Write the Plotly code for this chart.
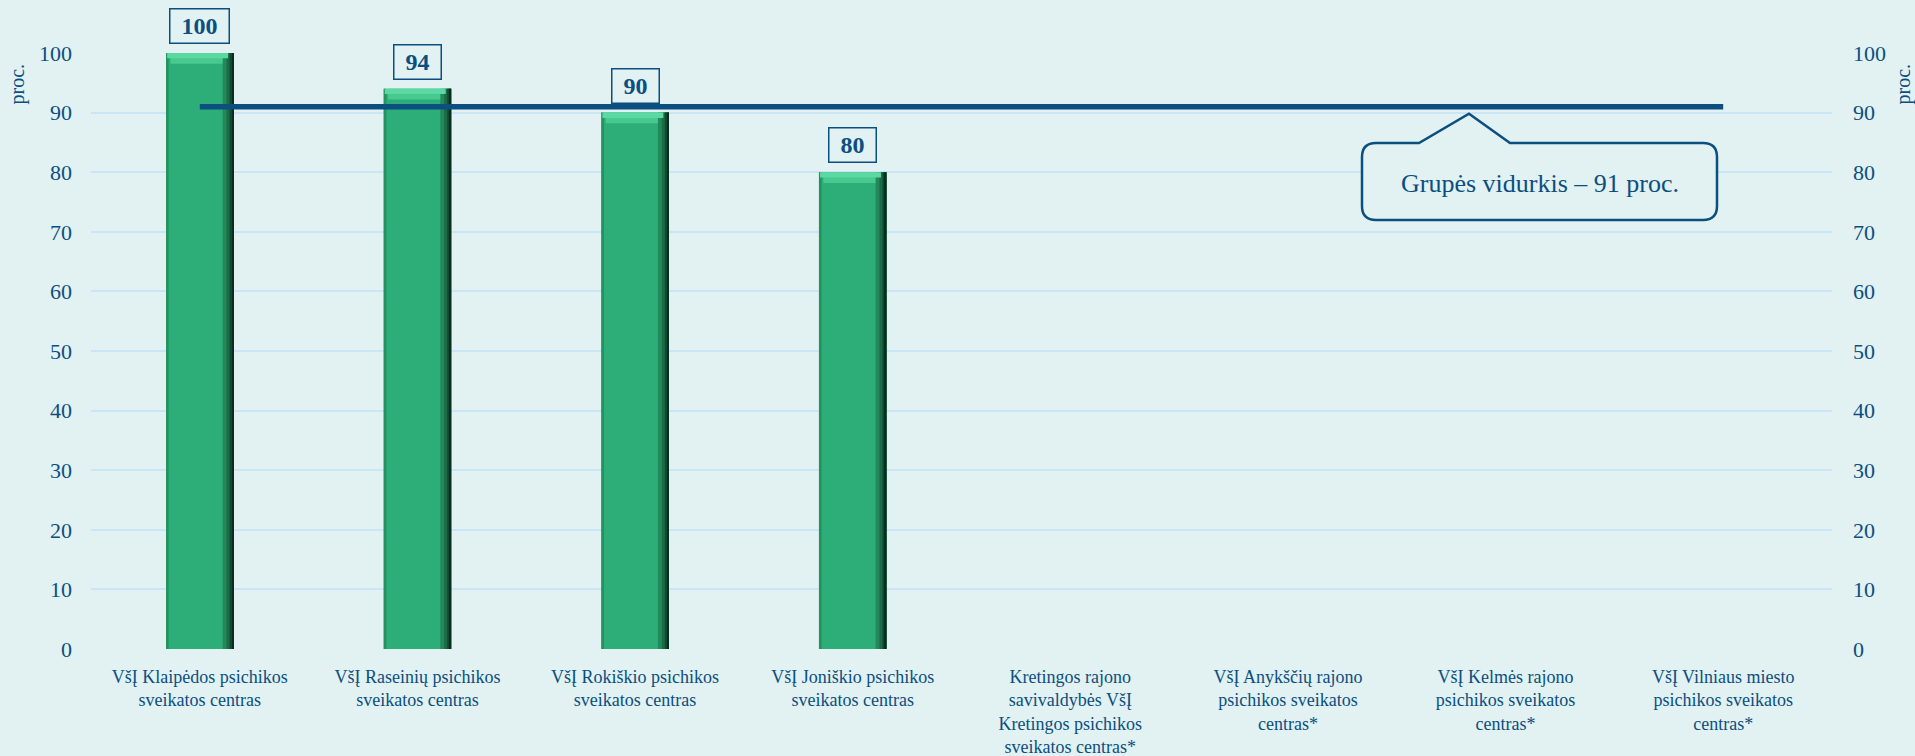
import plotly.graph_objects as go

# ---- data ----
categories = [
    "VšĮ Klaipėdos psichikos<br>sveikatos centras",
    "VšĮ Raseinių psichikos<br>sveikatos centras",
    "VšĮ Rokiškio psichikos<br>sveikatos centras",
    "VšĮ Joniškio psichikos<br>sveikatos centras",
    "Kretingos rajono<br>savivaldybės VšĮ<br>Kretingos psichikos<br>sveikatos centras*",
    "VšĮ Anykščių rajono<br>psichikos sveikatos<br>centras*",
    "VšĮ Kelmės rajono<br>psichikos sveikatos<br>centras*",
    "VšĮ Vilniaus miesto<br>psichikos sveikatos<br>centras*",
]
values = [100, 94, 90, 80, None, None, None, None]
group_avg = 91
y_ticks = [0, 10, 20, 30, 40, 50, 60, 70, 80, 90, 100]
axis_title = "proc."

# ---- style ----
W, H = 1915, 756
ML, MR, MT, MB = 91, 83, 53, 107
BG = "#e2f1f2"
DARK = "#0b4f80"
GRID = "#c9e6f7"
FONT = "Liberation Serif"
BAR_W = 0.31

x_idx = list(range(len(categories)))
xs = [i for i, v in zip(x_idx, values) if v is not None]
vs = [v for v in values if v is not None]

fig = go.Figure()

# main bar body
fig.add_trace(go.Bar(x=xs, y=vs, width=BAR_W, marker=dict(color="#2dae79", line=dict(width=0)),
                     hoverinfo="skip", showlegend=False))
# left subtle edge
fig.add_trace(go.Bar(x=xs, y=vs, width=0.012, offset=-BAR_W / 2,
                     marker=dict(color="#24925f", line=dict(width=0)), hoverinfo="skip", showlegend=False))
# right dark edge (gradient approximation)
for w, c in [(0.05, "#23895b"), (0.032, "#1a6b46"), (0.018, "#114a30"), (0.007, "#0a2e1e")]:
    fig.add_trace(go.Bar(x=xs, y=vs, width=w, offset=BAR_W / 2 - w,
                         marker=dict(color=c, line=dict(width=0)), hoverinfo="skip", showlegend=False))
# top bevel
bev = 1.8
fig.add_trace(go.Bar(x=xs, y=[bev] * len(vs), base=[v - bev for v in vs], width=BAR_W - 0.07,
                     offset=-BAR_W / 2 + 0.02,
                     marker=dict(color="#47c990", line=dict(width=0)), hoverinfo="skip", showlegend=False))
fig.add_trace(go.Bar(x=xs, y=[bev * 0.5] * len(vs), base=[v - bev * 0.5 for v in vs], width=BAR_W - 0.03,
                     offset=-BAR_W / 2 + 0.005,
                     marker=dict(color="#5cd9a3", line=dict(width=0)), hoverinfo="skip", showlegend=False))

# group average line (on secondary axis, same scale)
fig.add_trace(go.Scatter(x=[x_idx[0], x_idx[-1]], y=[group_avg, group_avg], yaxis="y2", mode="lines",
                         line=dict(color=DARK, width=5.5), hoverinfo="skip", showlegend=False))

# value labels in boxes
for x, v in zip(xs, vs):
    fig.add_annotation(x=x, y=v, text=f"<b>{v}</b>", showarrow=False, yanchor="bottom", yshift=9,
                       font=dict(family=FONT, size=24, color=DARK), bordercolor=DARK, borderwidth=1.5,
                       borderpad=2, width=54 if v >= 100 else 42, height=29, bgcolor=BG)

# callout with pointer to the average line
pw = (W - ML - MR) / len(categories)
ph = (H - MT - MB) / 100.0


def px2d(px, py):
    return (px - ML) / pw - 0.5, (H - MB - py) / ph


tip_y = H - MB - group_avg * ph + 7
left, right, top, bot, r = 1362, 1717, 143, 220, 14


def P(cmd, *xy):
    out = cmd
    for i in range(0, len(xy), 2):
        dx, dy = px2d(xy[i], xy[i + 1])
        out += f" {dx:.5f},{dy:.5f}"
    return out + " "


path = ""
path += P("M", left + r, top)
path += P("L", 1419, top)
path += P("L", 1469, tip_y)
path += P("L", 1510, top)
path += P("L", right - r, top)
path += P("Q", right, top, right, top + r)
path += P("L", right, bot - r)
path += P("Q", right, bot, right - r, bot)
path += P("L", left + r, bot)
path += P("Q", left, bot, left, bot - r)
path += P("L", left, top + r)
path += P("Q", left, top, left + r, top)
path += "Z"
fig.add_shape(type="path", path=path, xref="x", yref="y", line=dict(color=DARK, width=2.5),
              fillcolor=BG, layer="above")
cx, cy = px2d((left + right) / 2, (top + bot) / 2 + 2)
fig.add_annotation(x=cx, y=cy, text=f"Grupės vidurkis – {group_avg} proc.", showarrow=False,
                   font=dict(family=FONT, size=26, color=DARK))

# axis titles (top-aligned)
fig.add_annotation(xref="paper", yref="paper", x=(17 - ML) / (W - ML - MR), y=1.0, xanchor="center",
                   yanchor="top", yshift=-9, text=axis_title, textangle=-90, showarrow=False,
                   font=dict(family=FONT, size=20, color=DARK))
fig.add_annotation(xref="paper", yref="paper", x=(1903 - ML) / (W - ML - MR), y=1.0, xanchor="center",
                   yanchor="top", yshift=-9, text=axis_title, textangle=-90, showarrow=False,
                   font=dict(family=FONT, size=20, color=DARK))

fig.update_layout(
    width=W, height=H,
    margin=dict(l=ML, r=MR, t=MT, b=MB, autoexpand=False),
    paper_bgcolor=BG, plot_bgcolor=BG,
    barmode="overlay",
    font=dict(family=FONT, color=DARK),
    xaxis=dict(range=[-0.5, len(categories) - 0.5], tickmode="array", tickvals=x_idx, ticktext=categories,
               showgrid=False, zeroline=False, showline=False, ticks="", automargin=False,
               tickfont=dict(family=FONT, size=18, color=DARK), ticklabelstandoff=15),
    yaxis=dict(range=[0, 100], tickmode="array", tickvals=y_ticks, showgrid=True, gridcolor=GRID,
               gridwidth=2, zeroline=False, showline=False, ticks="", automargin=False,
               tickfont=dict(family=FONT, size=22, color=DARK), ticklabelstandoff=18),
    yaxis2=dict(range=[0, 100], overlaying="y", side="right", tickmode="array", tickvals=y_ticks,
                showgrid=False, zeroline=False, showline=False, ticks="", automargin=False,
                tickfont=dict(family=FONT, size=22, color=DARK), ticklabelstandoff=20),
)

fig.write_html("out.html", config={"displayModeBar": False},
               post_script="document.body.style.margin='0';document.body.style.background='%s';"
                           "document.body.style.overflow='hidden';" % BG)
